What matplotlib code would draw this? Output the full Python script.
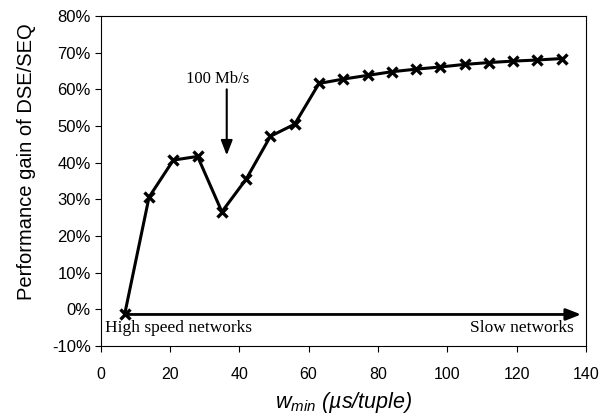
import matplotlib
matplotlib.use("Agg")
import matplotlib.pyplot as plt
from matplotlib.ticker import FuncFormatter

w_min = [7, 14, 21, 28, 35, 42, 49, 56, 63, 70, 77, 84, 91, 98, 105, 112, 119, 126, 133]
gain = [-1.2, 30.6, 40.7, 41.7, 26.6, 35.5, 47.2, 50.5, 61.6, 62.8, 63.8, 64.8, 65.5, 66.1,
        66.8, 67.3, 67.7, 68.0, 68.4]
y_ticks = [-10, 0, 10, 20, 30, 40, 50, 60, 70, 80]
x_ticks = [0, 20, 40, 60, 80, 100, 120, 140]

plt.rcParams["mathtext.fontset"] = "custom"
plt.rcParams["mathtext.it"] = "Liberation Sans:italic"
plt.rcParams["mathtext.rm"] = "Liberation Sans:italic"

fig = plt.figure(figsize=(6.09, 4.19), dpi=100)
ax = fig.add_axes([100.5 / 609, 1 - 346 / 419, 485.5 / 609, 330 / 419])

ax.plot(w_min, gain, color="black", lw=2.2, marker="x", ms=6.5, mew=2.4, zorder=3)

ax.set_xlim(0, 140)
ax.set_ylim(-10, 80)
ax.set_xticks(x_ticks)
ax.set_yticks(y_ticks)
ax.yaxis.set_major_formatter(FuncFormatter(lambda v, p: f"{int(v)}%"))
for lab in ax.get_yticklabels():
    lab.set_family("Liberation Sans")
    lab.set_fontsize(12)
for lab in ax.get_xticklabels():
    lab.set_family("Liberation Sans")
    lab.set_fontsize(11.5)
ax.tick_params(direction="out", length=4, width=0.8)
ax.tick_params(axis="y", pad=3)
ax.tick_params(axis="x", pad=11)
for s in ax.spines.values():
    s.set_linewidth(0.8)

ax.set_ylabel("Performance gain of DSE/SEQ", family="Liberation Sans", fontsize=14.5)
ax.yaxis.set_label_coords(-0.133, 0.558)
ax.set_xlabel("w$_{min}$ (µs/tuple)", family="Liberation Sans", fontsize=15.5, style="italic", labelpad=6)

# horizontal arrow
ax.annotate("", xy=(138.6, -1.4), xytext=(7, -1.4),
            arrowprops=dict(arrowstyle="-|>,head_length=0.9,head_width=0.35", color="black", lw=2.0,
                            shrinkA=0, shrinkB=0), zorder=2)
# vertical arrow
ax.annotate("", xy=(36.4, 42.0), xytext=(36.4, 60.0),
            arrowprops=dict(arrowstyle="-|>,head_length=0.9,head_width=0.35", color="black", lw=1.5,
                            shrinkA=0, shrinkB=0))
ax.text(33.8, 62.7, "100 Mb/s", family="Liberation Serif", fontsize=12, ha="center", va="center")
ax.text(1.3, -5.2, "High speed networks", family="Liberation Serif", fontsize=12.5, ha="left", va="center")
ax.text(136.6, -5.2, "Slow networks", family="Liberation Serif", fontsize=12.5, ha="right", va="center")

fig.savefig("out.png", dpi=100)
